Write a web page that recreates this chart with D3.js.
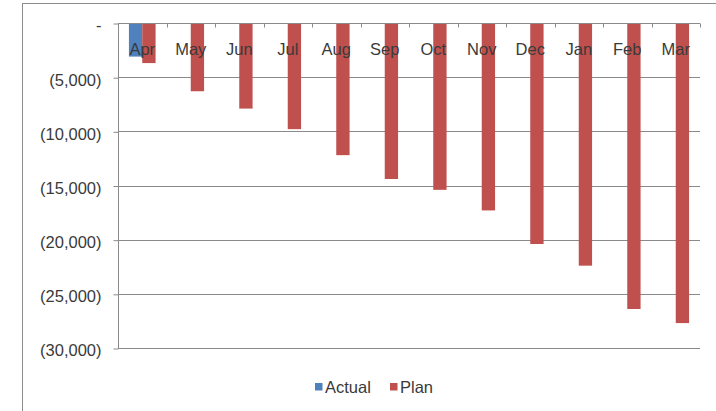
<!DOCTYPE html>
<html>
<head>
<meta charset="utf-8">
<script src="https://cdn.jsdelivr.net/npm/d3@7/dist/d3.min.js"></script>
<style>
  html, body { margin: 0; padding: 0; background: #fff; }
  svg { display: block; }
  text { font-family: "Liberation Sans", Arial, sans-serif; fill: #3a3a3a; }
</style>
</head>
<body>
<svg id="chart" width="716" height="411"></svg>
<script>
// Monthly cumulative figures (negative values), financial year Apr–Mar
const months = ["Apr", "May", "Jun", "Jul", "Aug", "Sep", "Oct", "Nov", "Dec", "Jan", "Feb", "Mar"];
const actual = [-3100, null, null, null, null, null, null, null, null, null, null, null];
const plan = [-3700, -6300, -7900, -9800, -12200, -14400, -15400, -17300, -20400, -22400, -26400, -27700];
const seriesNames = ["Actual", "Plan"];
const seriesColors = ["#4F81BD", "#C0504D"];
const yTicks = [0, -5000, -10000, -15000, -20000, -25000, -30000];

const svg = d3.select("#chart");
const W = 716, H = 411;
const plot = { left: 118, right: 700, top: 23, bottom: 348 };
const gridColor = "#8a8a8a";

// chart frame
svg.append("rect")
  .attr("x", 22.5).attr("y", 3.5)
  .attr("width", W + 10).attr("height", H + 10)
  .attr("fill", "#fff").attr("stroke", "#8c8c8c").attr("stroke-width", 1);

const x = d3.scaleBand().domain(months).range([plot.left, plot.right]).paddingInner(0).paddingOuter(0);
const groupWidth = x.bandwidth() / 1.82;
const xs = d3.scaleBand().domain(seriesNames).range([0, groupWidth]);
const y = d3.scaleLinear().domain([-30000, 0]).range([plot.bottom, plot.top]);

const fmt = v => v === 0 ? "-" : "(" + d3.format(",")(Math.abs(v)) + ")";

// horizontal gridlines
svg.append("g").selectAll("line").data(yTicks.filter(v => v !== 0)).join("line")
  .attr("x1", plot.left).attr("x2", plot.right)
  .attr("y1", d => Math.round(y(d)) + 0.5).attr("y2", d => Math.round(y(d)) + 0.5)
  .attr("stroke", gridColor).attr("stroke-width", 1);

// value axis on the left
const yAxis = d3.axisLeft(y).tickValues(yTicks).tickFormat(fmt).tickSize(5).tickPadding(12);
const yg = svg.append("g").attr("transform", `translate(${plot.left + 0.5},0.5)`).call(yAxis);
yg.select(".domain").attr("stroke", gridColor).attr("d", `M0,${plot.top}V${plot.bottom}`);
yg.selectAll(".tick line").attr("stroke", gridColor);
yg.selectAll(".tick text").attr("font-size", 16.5).attr("fill", "#3a3a3a").attr("dy", "0.45em");

// bars
const series = [actual, plan];
series.forEach((vals, si) => {
  svg.append("g").selectAll("rect")
    .data(months.map((m, i) => ({ m, v: vals[i] })).filter(d => d.v != null))
    .join("rect")
    .attr("x", d => x(d.m) + (x.bandwidth() - groupWidth) / 2 + xs(seriesNames[si]))
    .attr("y", y(0))
    .attr("width", xs.bandwidth())
    .attr("height", d => y(d.v) - y(0))
    .attr("fill", seriesColors[si]);
});

// category axis along the zero line
const xAxis = d3.axisBottom(x).tickSize(0).tickFormat(d => d);
const xg = svg.append("g").attr("transform", `translate(0,${Math.round(y(0)) + 0.5})`).call(xAxis);
xg.select(".domain").attr("stroke", gridColor).attr("d", `M${plot.left},0H${plot.right}`);
xg.selectAll(".tick text").attr("font-size", 16.5).attr("fill", "#3a3a3a").attr("dy", "0").attr("y", 31);

// tick marks at category boundaries
const bounds = months.map(m => x(m)).concat([plot.right]);
xg.append("g").selectAll("line").data(bounds).join("line")
  .attr("x1", d => Math.round(d) + 0.5).attr("x2", d => Math.round(d) + 0.5)
  .attr("y1", 0).attr("y2", 4)
  .attr("stroke", gridColor);

// legend
const legend = svg.append("g").attr("transform", "translate(315,387)");
const items = [{ name: "Actual", color: seriesColors[0], x: 0 }, { name: "Plan", color: seriesColors[1], x: 75 }];
items.forEach(it => {
  const g = legend.append("g").attr("transform", `translate(${it.x},0)`);
  g.append("rect").attr("x", 0).attr("y", -4).attr("width", 7.5).attr("height", 7.5).attr("fill", it.color);
  g.append("text").attr("x", 10).attr("y", 0).attr("dy", "0.36em").attr("font-size", 16.5).text(it.name);
});
</script>
</body>
</html>
